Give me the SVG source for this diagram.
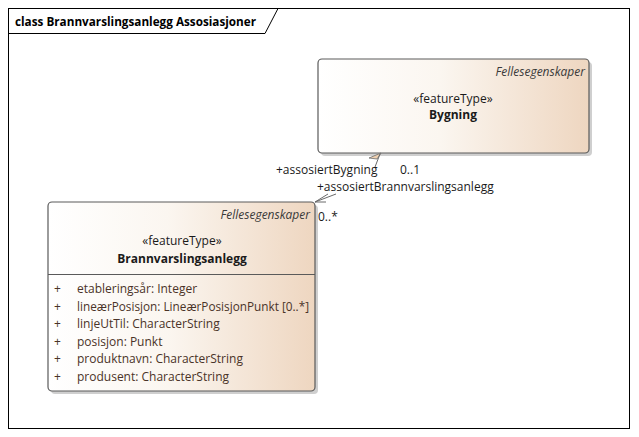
<svg xmlns="http://www.w3.org/2000/svg" width="639" height="437" viewBox="0 0 639 437">
<style>
text{font-family:"Open Sans","Noto Sans","Liberation Sans",sans-serif;font-size:12px;fill:#1a1a1a}
.nm{font-weight:bold}
.it{font-style:italic;fill:#3a3a3a}
.at{fill:#4a3328}
.box{fill:url(#g);stroke:#5a5a5a;stroke-width:1.2}
.sh{fill:#cfcfcf}
.ln{stroke:#6a6a6a;stroke-width:1;fill:none}
.ttl{font-family:"Open Sans","Liberation Sans",sans-serif;font-size:13px;font-weight:bold;fill:#000}
</style>
<defs>
<linearGradient id="g" x1="0" y1="0" x2="1" y2="0">
<stop offset="0" stop-color="#FFFFFF"/>
<stop offset="0.45" stop-color="#FBF6F0"/>
<stop offset="1" stop-color="#EED6C0"/>
</linearGradient>
</defs>
<rect x="0" y="0" width="639" height="437" fill="#fff"/>
<g id="frame">
<rect x="8.5" y="8.5" width="621" height="420" fill="none" stroke="#000" stroke-width="1"/>
<path d="M8.5 33.5 H265 L278 8.5" fill="none" stroke="#000" stroke-width="1"/>
<text class="ttl" x="15" y="26" textLength="241" lengthAdjust="spacingAndGlyphs">class Brannvarslingsanlegg Assosiasjoner</text>
</g>
<g id="Bygning">
<rect class="sh" x="321" y="62" width="271" height="94" rx="4"/>
<rect class="box" x="318" y="59" width="271" height="94" rx="4"/>
<text class="it" x="585" y="76" text-anchor="end">Fellesegenskaper</text>
<text x="453" y="103" text-anchor="middle">«featureType»</text>
<text class="nm" x="453" y="119" text-anchor="middle">Bygning</text>
</g>
<g id="Brannvarslingsanlegg">
<rect class="sh" x="51" y="205" width="267" height="189" rx="4"/>
<rect class="box" x="48" y="202" width="267" height="189" rx="4"/>
<line x1="48" y1="274.5" x2="315" y2="274.5" stroke="#5a5a5a" stroke-width="1"/>
<text class="it" x="310" y="219" text-anchor="end">Fellesegenskaper</text>
<text x="182" y="245" text-anchor="middle">«featureType»</text>
<text class="nm" x="182" y="263" text-anchor="middle">Brannvarslingsanlegg</text>
<g>
<text class="at" x="54" y="293">+</text><text class="at" x="77" y="293">etableringsår: Integer</text>
<text class="at" x="54" y="311">+</text><text class="at" x="77" y="311" textLength="232" lengthAdjust="spacingAndGlyphs">lineærPosisjon: LineærPosisjonPunkt [0..*]</text>
<text class="at" x="54" y="328">+</text><text class="at" x="77" y="328">linjeUtTil: CharacterString</text>
<text class="at" x="54" y="346">+</text><text class="at" x="77" y="346">posisjon: Punkt</text>
<text class="at" x="54" y="363">+</text><text class="at" x="77" y="363">produktnavn: CharacterString</text>
<text class="at" x="54" y="381">+</text><text class="at" x="77" y="381">produsent: CharacterString</text>
</g>
</g>
<g id="connectors">
<polygon points="381,153 369,158 377,159" fill="#EFD0B0" stroke="#6a6a6a" stroke-width="0.8"/>
<path class="ln" d="M380 154 L375 167"/>
<path class="ln" d="M336 194 L315 202 M315 202 L328 194 M315 202 L326 202"/>
<text x="276" y="174">+assosiertBygning</text>
<text x="400" y="174">0..1</text>
<text x="317" y="191">+assosiertBrannvarslingsanlegg</text>
<text x="318" y="221">0..*</text>
</g>
</svg>
